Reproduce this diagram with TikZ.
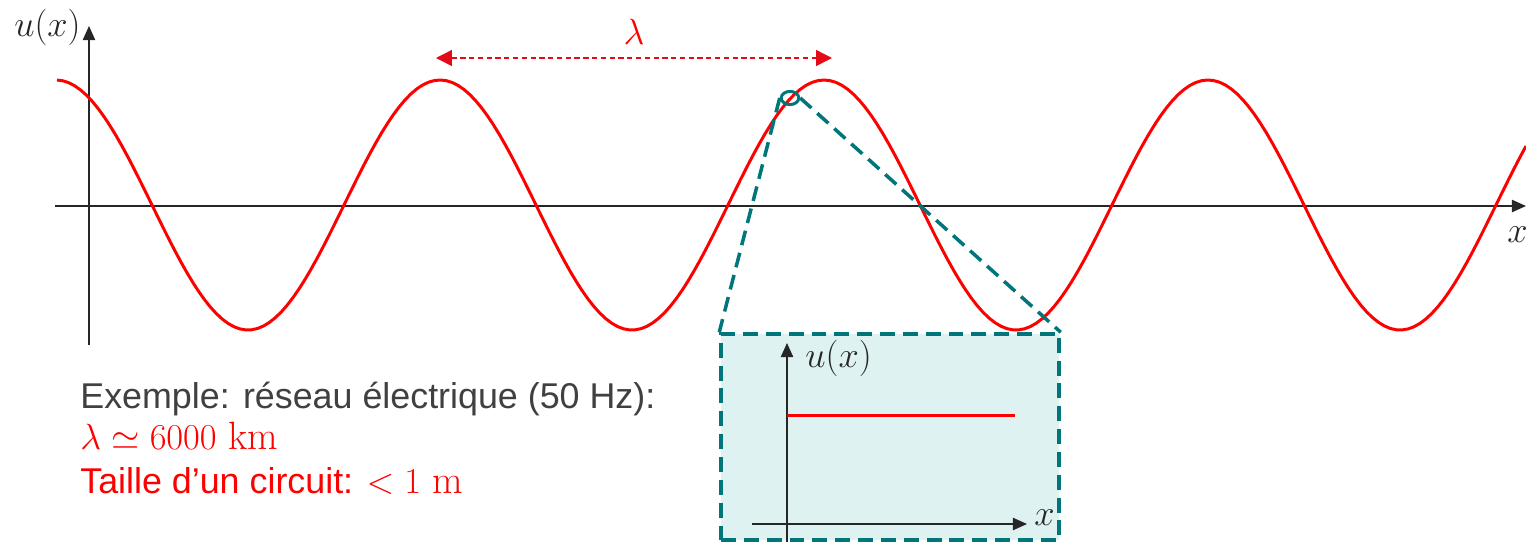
\documentclass[tikz,border=0pt]{standalone}
\usepackage{amsmath,amssymb}
\usepackage{fontspec}
\newfontfamily\arial{Liberation Sans}
\usepackage{tikz}
\usetikzlibrary{arrows.meta,positioning,shapes.geometric}
\usepackage{xcolor}

\definecolor{wavered}{RGB}{255,0,0}
\definecolor{arrowred}{RGB}{228,10,24}
\definecolor{zoomteal}{RGB}{0,118,122}
\definecolor{insetfill}{RGB}{223,242,242}
\definecolor{axisgray}{RGB}{38,38,38}
\definecolor{textgray}{RGB}{64,64,64}

\tikzset{
  axis/.style={draw=axisgray, line width=0.8pt, -{Triangle[length=8pt,width=7pt]}},
  wave/.style={draw=wavered, line width=1.7pt},
  zoomline/.style={draw=zoomteal, line width=2pt, dash pattern=on 8.5pt off 4.5pt},
  mathlabel/.style={text=axisgray, font=\fontsize{21}{23}\selectfont, inner sep=0pt}
}

\begin{document}
\begin{tikzpicture}[x=0.02cm, y=-0.02cm]
  \useasboundingbox (0,0) rectangle (1526,542);

  % Main axes
  \coordinate (O) at (89,206);
  \coordinate (ybot) at (89,345);
  \coordinate (ytop) at (89,26);
  \coordinate (xleft) at (55,206);
  \coordinate (xright) at (1526,206);
  \draw[axis] (ybot) -- (ytop);
  \draw[axis] (xleft) -- (xright);
  \node[mathlabel, anchor=east] (ulab) at (81,27) {$u(x)$};
  \node[mathlabel, anchor=north east] (xlab) at (1528,226) {$x$};

  % Wave
  \draw[wave] plot[domain=57:1526, samples=250] (\x, {205-125*cos(0.9375*(\x-56))});

  % Wavelength
  \coordinate (lamL) at (436,58);
  \coordinate (lamR) at (832,58);
  \draw[draw=arrowred, line width=0.8pt, dash pattern=on 3pt off 2pt,
        {Triangle[length=9pt,width=9pt]}-{Triangle[length=9pt,width=9pt]}] (lamL) -- (lamR);
  \node[mathlabel, text=wavered] (lam) at (634,32) {$\lambda$};

  % Zoom
  \node[draw=zoomteal, line width=1.7pt, ellipse, minimum width=10pt, minimum height=7.5pt,
        inner sep=0pt] (zoomc) at (790,98) {};
  \node[zoomline, fill=insetfill, rectangle, minimum width=338*0.02cm, minimum height=206*0.02cm,
        inner sep=0pt] (inset) at (890,437) {};
  \draw[zoomline] (zoomc.west) -- (inset.north west);
  \draw[zoomline] (zoomc.east) -- (inset.north east);

  % Inset axes
  \coordinate (iybot) at (787,542);
  \coordinate (iytop) at (787,343);
  \coordinate (ixleft) at (752,524);
  \coordinate (ixright) at (1027,524);
  \draw[axis] (iybot) -- (iytop);
  \draw[axis] (ixleft) -- (ixright);
  \node[mathlabel, anchor=west] (iulab) at (805,358) {$u(x)$};
  \node[mathlabel, anchor=west] (ixlab) at (1034,518) {$x$};
  \draw[wave] (787,415) -- (1015,415);

  % Example text
  \node[anchor=base west, inner sep=0pt, text=textgray, font=\arial\fontsize{20.4}{22}\selectfont]
    (ex1) at (80,408) {Exemple: réseau électrique (50 Hz):};
  \node[anchor=base west, inner sep=0pt, text=wavered, font=\fontsize{22.5}{24}\selectfont]
    (ex2) at (80,449) {$\lambda \simeq 6000~\mathrm{km}$};
  \node[anchor=base west, inner sep=0pt, text=wavered, font=\arial\fontsize{20.4}{22}\selectfont]
    (ex3) at (80,493) {Taille d’un circuit: {\fontsize{22.5}{24}\selectfont$<1~\mathrm{m}$}};
\end{tikzpicture}
\end{document}
